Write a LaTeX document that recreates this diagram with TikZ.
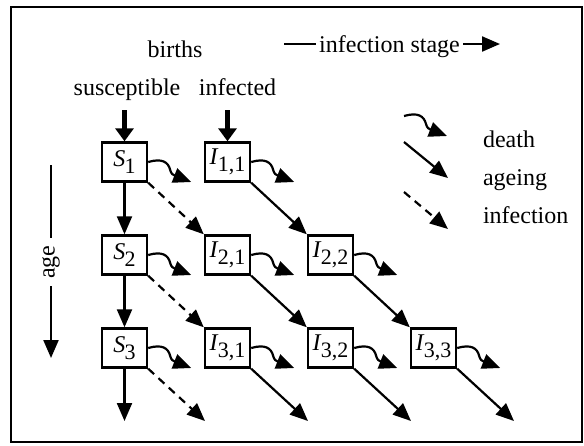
\documentclass[tikz,border=0pt]{standalone}
\usepackage{fontspec}
\setmainfont{Liberation Serif}
\usetikzlibrary{arrows.meta,positioning}

\newcommand{\cmp}[2]{\textit{#1}\kern-0.3pt\raisebox{-0.6ex}{\fontsize{11}{12}\selectfont #2}}

\tikzset{
  comp/.style={draw,line width=1.2pt,minimum width=22.5pt,minimum height=19.5pt,inner sep=0pt},
  flow/.style={line width=1.1pt,-{Triangle[length=9pt,width=7.5pt]}},
  infect/.style={flow,dash pattern=on 4pt off 3pt},
  birth/.style={line width=2.8pt,-{Triangle[length=6.5pt,width=9pt]}},
  death/.style={flow},
}

\begin{document}
\begin{tikzpicture}[x=0.5pt,y=-0.5pt,font=\fontsize{12}{14}\selectfont]
  \useasboundingbox (0,0) rectangle (584,445);
  % Frame
  \draw[line width=1.1pt] (11,7) rectangle (582,442);

  % Headings
  \node[anchor=base] (births) at (175,57) {births};
  \node[anchor=base] (susc) at (127,95) {susceptible};
  \node[anchor=base] (infd) at (237.5,95) {infected};
  \node[anchor=base,inner sep=1.5pt] (stage) at (389.5,52) {infection stage};
  \coordinate (st0) at (284,44);
  \coordinate (st1) at (500,44);
  \draw[line width=1.1pt] (st0) -- (stage.west |- st0);
  \draw[flow] (stage.east |- st1) -- (st1);

  % Age axis
  \node[rotate=90,inner sep=3.5pt] (age) at (51,262) {age};
  \coordinate (a0) at (51,165);
  \coordinate (a1) at (51,358);
  \draw[line width=1.1pt] (a0) -- (age.east);
  \draw[flow] (age.west) -- (a1);

  % Compartments
  \node[comp] (S1) at (124.5,162) {\cmp{S}{1}};
  \node[comp] (S2) at (124.5,255) {\cmp{S}{2}};
  \node[comp] (S3) at (124.5,348) {\cmp{S}{3}};
  \node[comp] (I11) at (227.5,162) {\cmp{I}{1,1}};
  \node[comp] (I21) at (227.5,255) {\cmp{I}{2,1}};
  \node[comp] (I31) at (227.5,348) {\cmp{I}{3,1}};
  \node[comp] (I22) at (330.5,255) {\cmp{I}{2,2}};
  \node[comp] (I32) at (330.5,348) {\cmp{I}{3,2}};
  \node[comp] (I33) at (433.5,348) {\cmp{I}{3,3}};

  % Exits at the bottom
  \coordinate (S4) at (124.5,421);
  \coordinate (I41) at (205,421);
  \coordinate (I42) at (308,421);
  \coordinate (I43) at (411,421);
  \coordinate (I44) at (514,421);

  % Births
  \coordinate (b1) at (124.5,110);
  \coordinate (b2) at (227.5,110);
  \draw[birth] (b1) -- (S1.north);
  \draw[birth] (b2) -- (I11.north);

  % Ageing
  \draw[flow] (S1) -- (S2);
  \draw[flow] (S2) -- (S3);
  \draw[flow] (S3) -- (S4);
  \draw[flow] (I11.south east) -- (I22.north west);
  \draw[flow] (I21.south east) -- (I32.north west);
  \draw[flow] (I22.south east) -- (I33.north west);
  \draw[flow] (I31.south east) -- (I42);
  \draw[flow] (I32.south east) -- (I43);
  \draw[flow] (I33.south east) -- (I44);

  % Infection
  \draw[infect] (S1.south east) -- (I21.north west);
  \draw[infect] (S2.south east) -- (I31.north west);
  \draw[infect] (S3.south east) -- (I41);

  % Death
  \foreach \n in {S1,I11,S2,I21,I22,S3,I31,I32,I33}
    \draw[death] (\n.east) .. controls +(14,-4) and +(-2,-8) .. ++(22,8)
      .. controls +(1,4) and +(-18,-7) .. ++(21,12);

  % Legend
  \coordinate (d0) at (404,116);
  \coordinate (g0) at (404,142);
  \coordinate (g1) at (448,178);
  \coordinate (f0) at (404,192);
  \coordinate (f1) at (448,229);
  \draw[death] (d0) .. controls +(14,-4) and +(-2,-8) .. ++(22,8)
    .. controls +(1,4) and +(-18,-7) .. ++(21,12);
  \draw[flow] (g0) -- (g1);
  \draw[infect] (f0) -- (f1);
  \node[anchor=base west] (ldeath) at (476,147) {death};
  \node[anchor=base west] (lage) at (476,185) {ageing};
  \node[anchor=base west] (linf) at (476,223) {infection};
\end{tikzpicture}
\end{document}
